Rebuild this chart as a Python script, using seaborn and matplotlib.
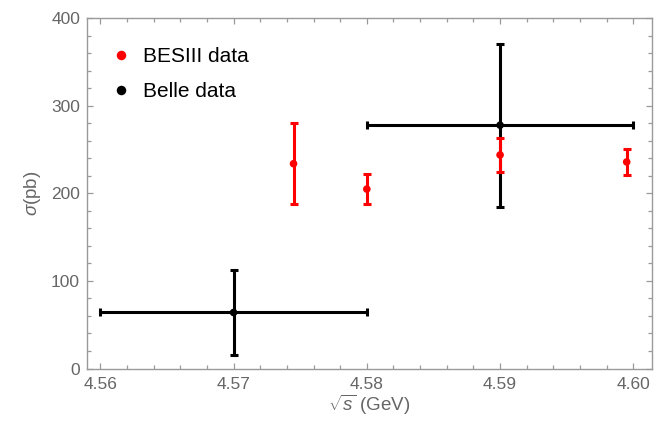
import numpy as np
import pandas as pd
import matplotlib
matplotlib.use("Agg")
import matplotlib.pyplot as plt
import seaborn as sns

# BESIII measurements
bes_energy = [4.5745, 4.5800, 4.5900, 4.5995]
bes_sigma = [234, 205, 244, 236]
bes_err = [46, 17, 19, 15]

# Belle measurements (binned in energy)
belle_energy = [4.57, 4.59]
belle_sigma = [64, 278]
belle_err = [48, 93]
belle_halfwidth = [0.01, 0.01]

x_ticks = [4.56, 4.57, 4.58, 4.59, 4.60]
x_ticklabels = ["4.56", "4.57", "4.58", "4.59", "4.60"]
y_ticks = [0, 100, 200, 300, 400]

sns.set_style("ticks")
plt.rcParams["font.family"] = ["Liberation Sans", "DejaVu Sans"]
plt.rcParams["mathtext.fontset"] = "custom"
plt.rcParams["mathtext.it"] = "Liberation Sans:italic"
plt.rcParams["mathtext.rm"] = "Liberation Sans"

df = pd.DataFrame({
    "energy": bes_energy + belle_energy,
    "sigma": bes_sigma + belle_sigma,
    "source": ["BESIII data"] * len(bes_energy) + ["Belle data"] * len(belle_energy),
})

fig = plt.figure(figsize=(6.69, 4.28), dpi=100)
ax = fig.add_axes([0.130, 0.139, 0.8446, 0.818])

red = "#ff0000"
ax.errorbar(belle_energy, belle_sigma, yerr=belle_err, xerr=belle_halfwidth,
            fmt="none", ecolor="black", elinewidth=2.2, capsize=2.8,
            capthick=2.2, zorder=2)
ax.errorbar(bes_energy, bes_sigma, yerr=bes_err, fmt="none", ecolor=red,
            elinewidth=2.2, capsize=3.0, capthick=2.2, zorder=3)

sns.scatterplot(data=df, x="energy", y="sigma", hue="source",
                palette={"BESIII data": red, "Belle data": "black"},
                s=30, linewidth=0, ax=ax, zorder=4)

ax.set_xlim(4.559, 4.6014)
ax.set_ylim(0, 400)
ax.set_xticks(x_ticks)
ax.set_xticklabels(x_ticklabels)
ax.set_yticks(y_ticks)
ax.xaxis.set_minor_locator(matplotlib.ticker.MultipleLocator(0.002))
ax.yaxis.set_minor_locator(matplotlib.ticker.MultipleLocator(20))

grey = "#9a9a9a"
label_grey = "#666666"
for sp in ax.spines.values():
    sp.set_visible(True)
    sp.set_color(grey)
    sp.set_linewidth(1.0)
ax.tick_params(which="both", direction="in", top=True, right=True,
               color=grey, width=0.9, labelcolor=label_grey, labelsize=12.5)
ax.tick_params(which="major", length=4.5)
ax.tick_params(axis="x", which="major", pad=6)
ax.tick_params(axis="y", which="major", pad=5)
ax.tick_params(which="minor", length=3)

ax.set_xlabel(r"$\sqrt{s}$ (GeV)", fontsize=13.5, color=label_grey, labelpad=1)
ax.set_ylabel(r"$\sigma$(pb)", fontsize=13.5, color=label_grey, labelpad=6)

leg = ax.legend(loc="upper left", bbox_to_anchor=(-0.008, 0.995),
                frameon=False, fontsize=15,
                handletextpad=0.5, labelspacing=0.75, borderaxespad=0.9,
                markerscale=1.25, handlelength=1.1)
for t in leg.get_texts():
    t.set_color("black")

fig.savefig("out.png", dpi=100)
